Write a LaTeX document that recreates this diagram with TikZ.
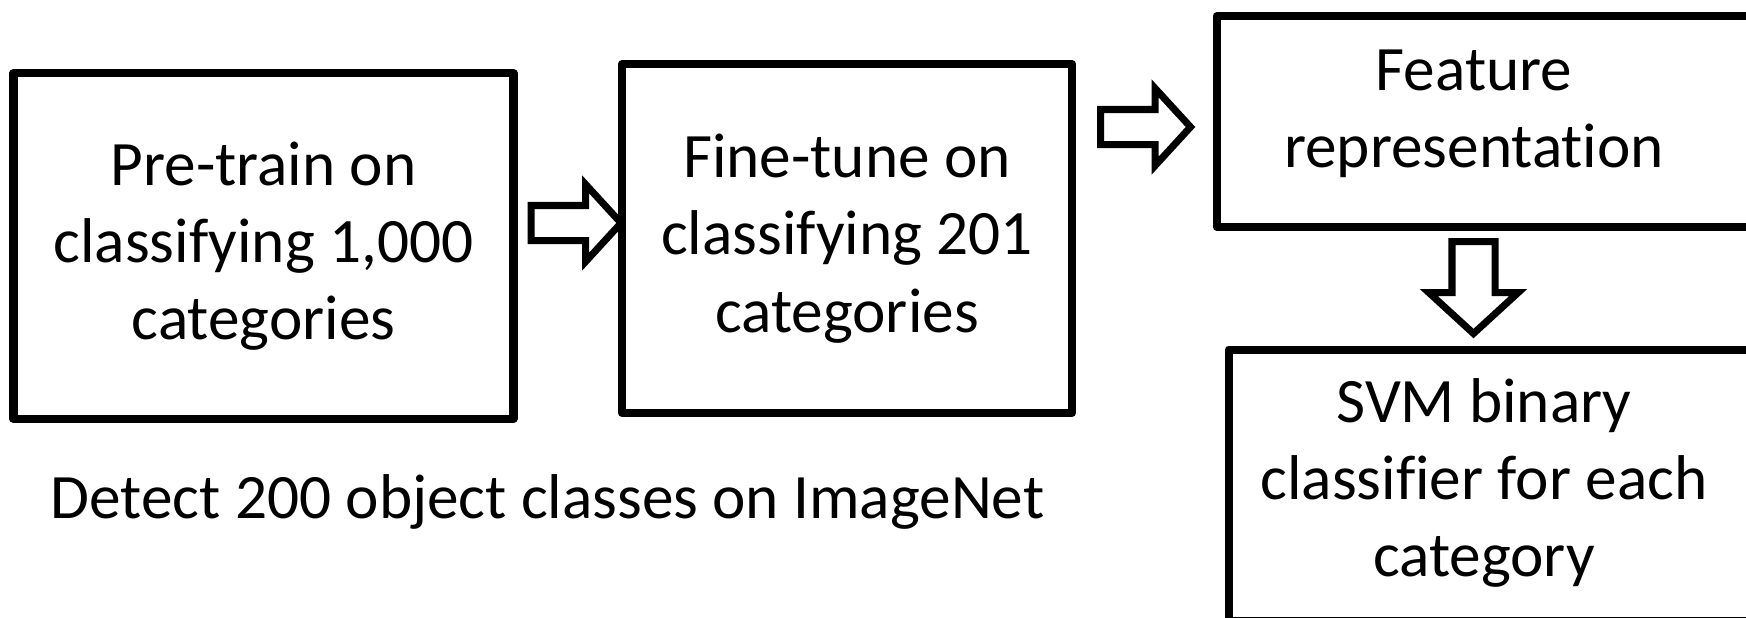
\documentclass[tikz,border=0pt]{standalone}
\usepackage{fontspec}
\setmainfont{Carlito}[Ligatures=NoCommon]
\usetikzlibrary{shapes.arrows}
\begin{document}
\begin{tikzpicture}[
  box/.style={draw,line width=2.3pt,line join=round,align=center,inner sep=0pt},
  fatarrow/.style={single arrow,draw,fill=white,line width=2pt,inner sep=0pt,inner ysep=.14cm,single arrow head extend=.21cm,single arrow tip angle=95,minimum height=.9cm,anchor=tail},
  font=\fontsize{18}{22}\selectfont]
\useasboundingbox (0,0) rectangle (17.46,-6.17);
\clip (0,0) rectangle (17.46,-6.17);
% training boxes
\node[box,minimum width=5cm,minimum height=3.46cm] (pretrain) at (2.635,-2.46){Pre-train on\\classifying 1,000\\categories};
\node[box,minimum width=4.5cm,minimum height=3.49cm] (finetune) at (8.47,-2.385){Fine-tune on\\classifying 201\\categories};
% right column, cut at the edge
\node[box,minimum width=6cm,minimum height=2.11cm,anchor=north west] (feat) at (12.125,-.12){};
\node[align=center] (feattxt) at (14.74,-1.14){Feature\\representat\kern0pt ion};
\node[box,minimum width=6cm,minimum height=2.715cm,anchor=north west] (svm) at (12.245,-3.455){};
\node[align=center] (svmtxt) at (14.84,-4.83){SVM binary\\classifier for each\\category};
% hollow arrows
\node[fatarrow] (a1) at (5.275,-2.23){};
\node[fatarrow] (a2) at (10.97,-1.27){};
\node[fatarrow,shape border rotate=270,inner ysep=0pt,inner xsep=.18cm,single arrow head extend=.23cm,minimum height=.92cm] (a3) at (14.735,-2.38){};
\node[anchor=base] (caption) at (5.475,-5.18){Detect 200 object classes on ImageNet};
\end{tikzpicture}
\end{document}
